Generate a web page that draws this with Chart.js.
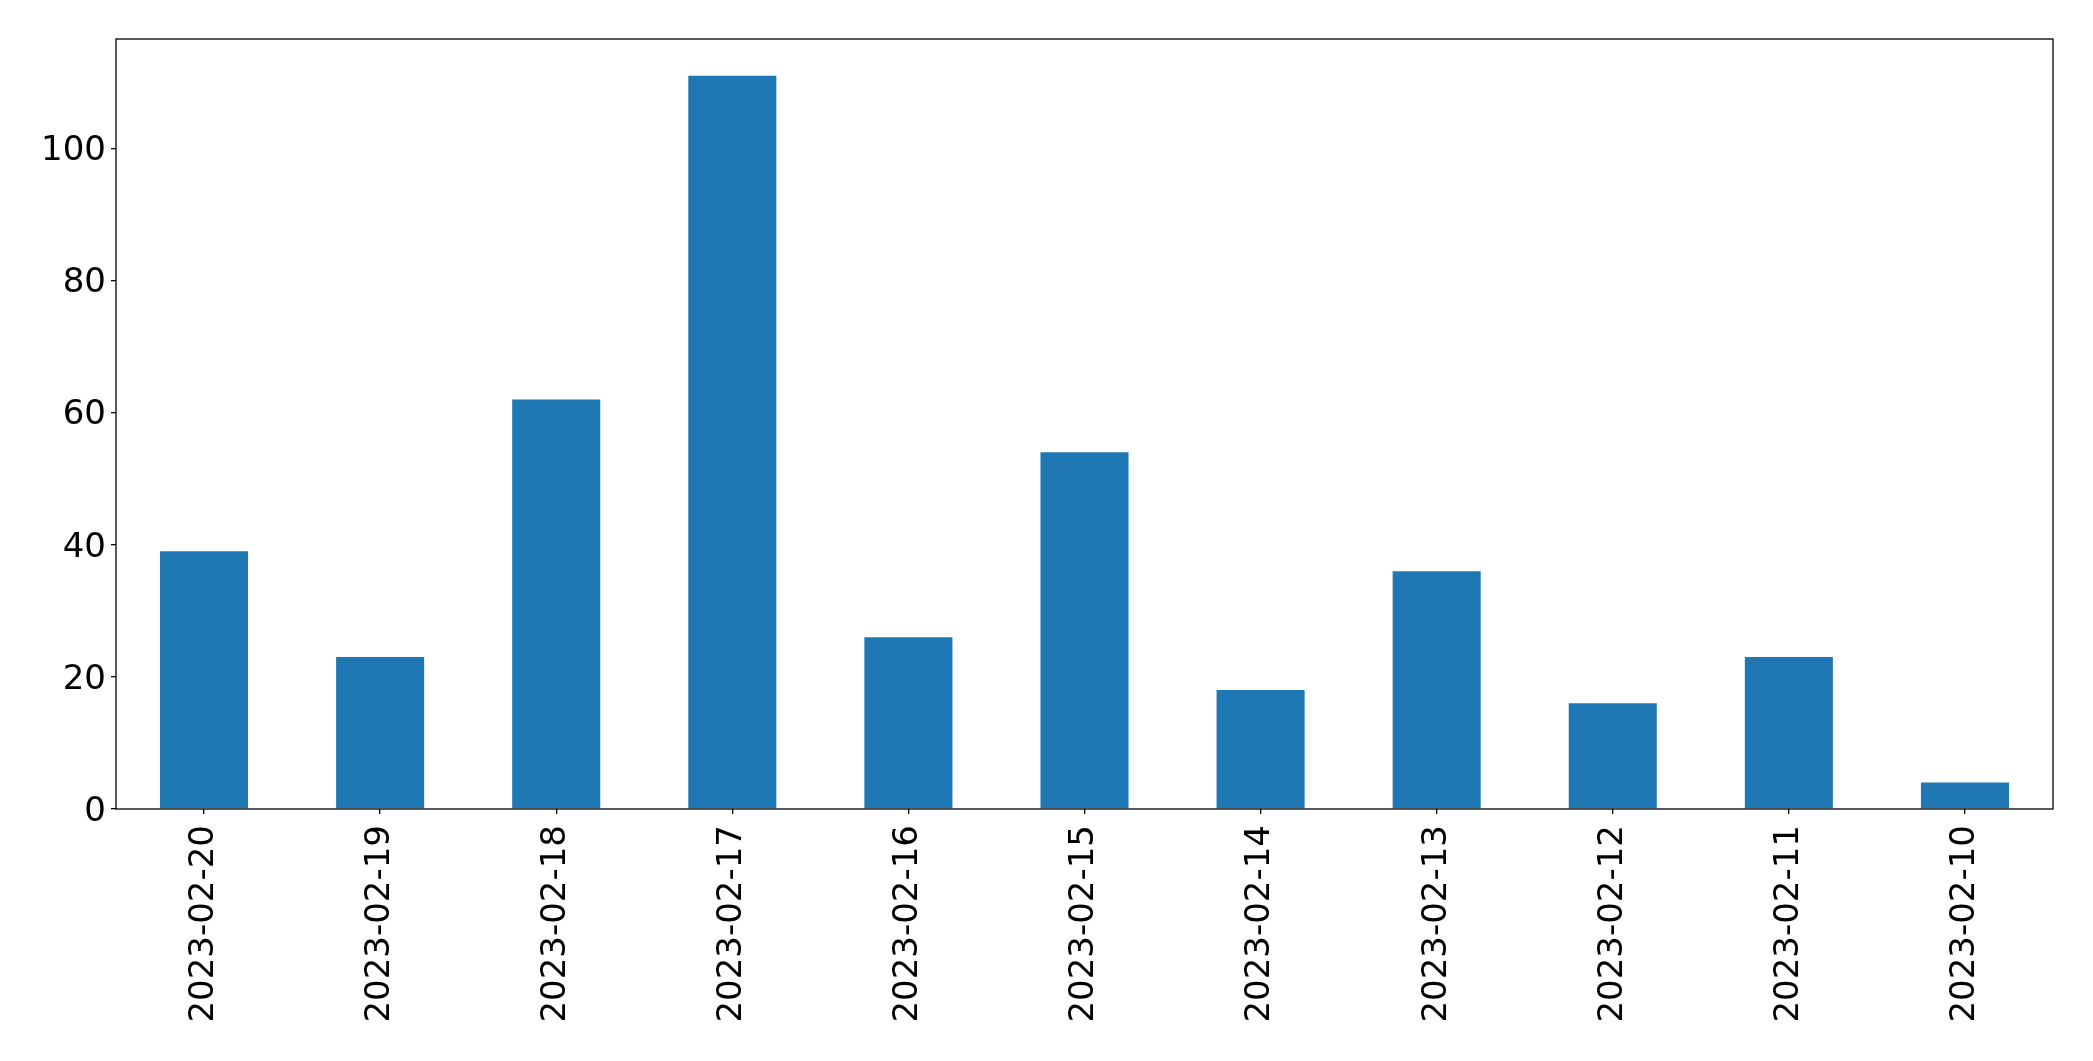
<!DOCTYPE html>
<html>
<head>
<meta charset="utf-8">
<script src="https://cdn.jsdelivr.net/npm/chart.js@4"></script>
<style>
  html, body { margin: 0; padding: 0; background: #fff; }
  #wrap { width: 2093px; height: 1061px; }
</style>
</head>
<body>
<div id="wrap"><canvas id="barChart" width="2093" height="1061"></canvas></div>
<script>
const dates = ['2023-02-20', '2023-02-19', '2023-02-18', '2023-02-17', '2023-02-16', '2023-02-15',
               '2023-02-14', '2023-02-13', '2023-02-12', '2023-02-11', '2023-02-10'];
const counts = [39, 23, 62, 111, 26, 54, 18, 36, 16, 23, 4];
const yTicks = [0, 20, 40, 60, 80, 100];

// box around plot area, like matplotlib spines
const frame = {
  id: 'frame',
  afterDraw(chart) {
    const { ctx, chartArea: a } = chart;
    ctx.save();
    ctx.strokeStyle = '#000';
    ctx.lineWidth = 1.3;
    ctx.strokeRect(a.left, a.top, a.right - a.left, a.bottom - a.top);
    ctx.restore();
  }
};

new Chart(document.getElementById('barChart'), {
  type: 'bar',
  data: {
    labels: dates,
    datasets: [{
      data: counts,
      backgroundColor: '#1f77b4',
      borderWidth: 0,
      categoryPercentage: 1,
      barPercentage: 0.5
    }]
  },
  options: {
    responsive: false,
    animation: false,
    events: [],
    layout: { padding: { top: 39, right: 40, left: 0, bottom: 0 } },
    plugins: { legend: { display: false }, tooltip: { enabled: false } },
    scales: {
      x: {
        grid: { display: true, offset: false, drawOnChartArea: false, drawTicks: true, tickLength: 5, tickColor: '#000', lineWidth: 1.3 },
        border: { display: false },
        ticks: { color: '#000', font: { family: 'DejaVu Sans', size: 34 }, maxRotation: 90, minRotation: 90, padding: 11, autoSkip: false },
        afterFit(scale) { scale.height = 252; }
      },
      y: {
        min: 0,
        max: 116.55,
        afterBuildTicks(scale) { scale.ticks = yTicks.map(v => ({ value: v })); },
        grid: { display: true, drawOnChartArea: false, drawTicks: true, tickLength: 5, tickColor: '#000', lineWidth: 1.3 },
        border: { display: false },
        ticks: { color: '#000', font: { family: 'DejaVu Sans', size: 34 }, padding: 5, labelOffset: 3 },
        afterFit(scale) { scale.width = 116; }
      }
    }
  },
  plugins: [frame]
});
</script>
</body>
</html>
